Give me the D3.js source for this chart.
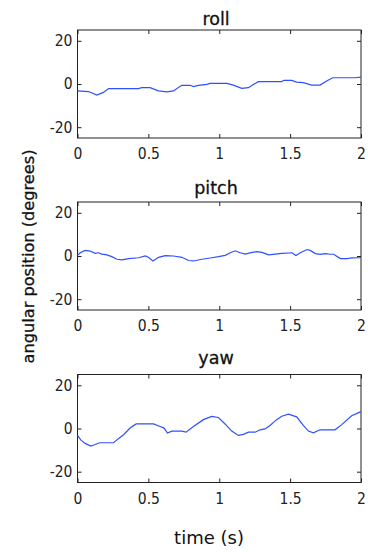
<!DOCTYPE html>
<html><head><meta charset="utf-8">
<script src="https://cdn.jsdelivr.net/npm/d3@7"></script>
<style>
html,body{margin:0;padding:0;background:#fff;}
svg{display:block;}
.tick text{font-family:"DejaVu Sans Condensed","DejaVu Sans",sans-serif;font-stretch:condensed;font-size:15.5px;fill:#222;}
</style></head>
<body>
<script>
const titles = ["roll", "pitch", "yaw"];
const xTicks = [0, 0.5, 1, 1.5, 2];
const xTickLabels = ["0", "0.5", "1", "1.5", "2"];
const yTicks = [-20, 0, 20];
const yTickLabels = ["-20", "0", "20"];

const rollT = [0,0.078,0.136,0.183,0.219,0.43,0.453,0.512,0.571,0.63,0.677,0.735,0.794,0.818,0.853,0.912,0.935,1.053,1.1,1.159,1.206,1.241,1.276,1.44,1.457,1.511,1.546,1.593,1.652,1.711,1.758,1.8,1.958,2.0];
const rollV = [-3.2,-3.5,-5.1,-3.9,-2.1,-2.1,-1.7,-1.7,-3.2,-3.6,-3.2,-0.6,-0.6,-1.2,-0.6,-0.2,0.3,0.3,-0.5,-2.0,-1.7,-0.2,1.1,1.1,1.7,1.7,0.9,0.6,-0.5,-0.5,1.4,2.9,2.9,3.2];

const pitchT = [0,0.019,0.054,0.089,0.125,0.148,0.172,0.207,0.242,0.278,0.313,0.36,0.431,0.478,0.5,0.532,0.572,0.619,0.678,0.736,0.784,0.819,0.878,0.948,0.995,1.042,1.078,1.113,1.148,1.184,1.231,1.266,1.301,1.348,1.395,1.442,1.489,1.513,1.541,1.572,1.619,1.642,1.678,1.713,1.748,1.784,1.807,1.854,1.901,1.936,2.0];
const pitchV = [0.3,1.5,2.6,2.3,1.2,1.5,0.9,0.5,-0.3,-1.5,-1.8,-1.2,-0.8,0,-0.6,-2.3,-0.6,0.2,0,-0.6,-2.1,-2.3,-1.5,-0.8,-0.3,0.3,1.5,2.4,1.5,0.9,1.7,2.0,1.7,0.5,0.9,1.2,1.4,1.5,0.2,1.5,3.0,2.6,1.1,0.8,1.1,0.8,0.8,-1.2,-1.2,-0.9,-0.8];

const yawT = [0,0.024,0.054,0.094,0.125,0.155,0.254,0.289,0.325,0.371,0.414,0.536,0.583,0.611,0.635,0.665,0.736,0.766,0.818,0.888,0.947,0.994,1.041,1.088,1.135,1.17,1.206,1.253,1.288,1.323,1.358,1.405,1.441,1.488,1.546,1.593,1.629,1.664,1.711,1.817,1.864,1.934,2.0];
const yawV = [-3.2,-5.4,-6.9,-8.1,-7.4,-6.6,-6.6,-4.7,-2.9,0.2,2.1,2.1,0.9,0.2,-2.1,-1.2,-1.2,-1.7,0.9,4.1,5.6,5.1,2.1,-1.2,-3.2,-2.7,-1.7,-1.7,-0.6,-0.2,1.4,4.1,5.7,6.6,5.4,1.4,-1.2,-2.0,-0.6,-0.6,1.8,5.9,7.8];

const seriesT = [rollT, pitchT, yawT];
const seriesV = [rollV, pitchV, yawV];

const W = 368, H = 552;
const left = 77.5, right = 361;
const tops = [30, 202, 374.5];
const ph = 108;
const titleY = [25, 193.5, 363.5];

const svg = d3.select("body").append("svg").attr("width", W).attr("height", H);
const x = d3.scaleLinear().domain([0, 2]).range([left, right]);

tops.forEach((top, i) => {
  const y = d3.scaleLinear().domain([-25, 25]).range([top + ph, top]);
  const g = svg.append("g");
  const fmtX = d => xTickLabels[xTicks.indexOf(d)];
  const fmtY = d => yTickLabels[yTicks.indexOf(d)];

  g.append("g").attr("transform", `translate(0,${top + ph})`)
    .call(d3.axisBottom(x).tickValues(xTicks).tickFormat(fmtX).tickSizeInner(-4).tickSizeOuter(0).tickPadding(10));
  g.append("g").attr("transform", `translate(0,${top})`)
    .call(d3.axisTop(x).tickValues(xTicks).tickFormat("").tickSizeInner(-4).tickSizeOuter(0));
  g.append("g").attr("transform", `translate(${left},0)`)
    .call(d3.axisLeft(y).tickValues(yTicks).tickFormat(fmtY).tickSizeInner(-4).tickSizeOuter(0).tickPadding(5));
  g.append("g").attr("transform", `translate(${right},0)`)
    .call(d3.axisRight(y).tickValues(yTicks).tickFormat("").tickSizeInner(-4).tickSizeOuter(0));
  g.selectAll(".domain").remove();
  g.selectAll(".tick line").attr("stroke", "#222");

  g.append("rect").attr("x", left).attr("y", top).attr("width", right - left).attr("height", ph)
    .attr("fill", "none").attr("stroke", "#222").attr("stroke-width", 1);

  const pts = seriesT[i].map((t, k) => [t, seriesV[i][k]]);
  g.append("path").datum(pts)
    .attr("fill", "none").attr("stroke", "#2f50ff").attr("stroke-width", 1.2)
    .attr("d", d3.line().x(d => x(d[0])).y(d => y(d[1])));

  svg.append("text").attr("x", 216).attr("y", titleY[i]).attr("text-anchor", "middle")
    .attr("font-family", "DejaVu Sans").attr("font-size", 17.5).attr("fill", "#111")
    .attr("stroke", "#111").attr("stroke-width", 0.3).text(titles[i]);
});

svg.append("text").attr("transform", "translate(34,256.5) rotate(-90)").attr("text-anchor", "middle")
  .attr("font-family", "DejaVu Sans").attr("font-size", 16.2).attr("fill", "#111")
  .attr("stroke", "#111").attr("stroke-width", 0.3).text("angular position (degrees)");
svg.append("text").attr("x", 209).attr("y", 544).attr("text-anchor", "middle")
  .attr("font-family", "DejaVu Sans").attr("font-size", 18).attr("fill", "#111").text("time (s)");
</script>
</body></html>
